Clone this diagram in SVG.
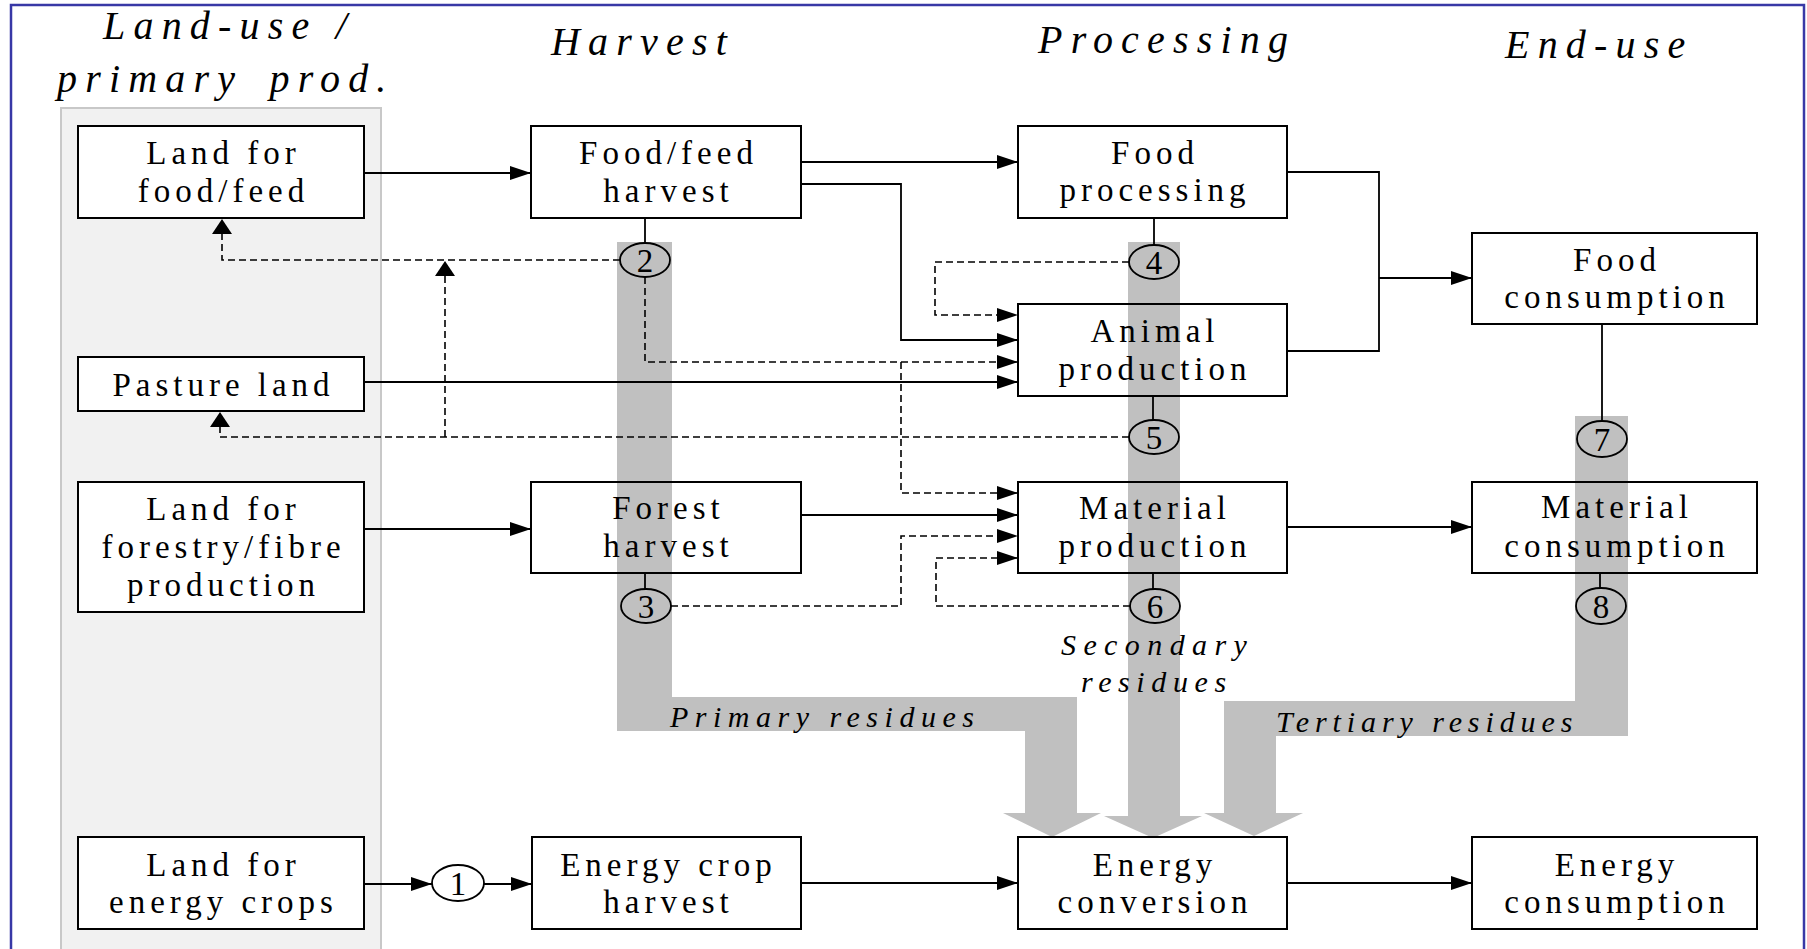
<svg xmlns="http://www.w3.org/2000/svg" width="1807" height="949" viewBox="0 0 1807 949">
<style>
.box{fill:none;stroke:#000;stroke-width:2}
.wbox{fill:#fff;stroke:#000;stroke-width:2}
.t{font-family:"Liberation Serif","Times New Roman",serif;font-size:33px;letter-spacing:5px;text-anchor:middle;fill:#000}
.h{font-family:"Liberation Serif","Times New Roman",serif;font-style:italic;font-size:40px;letter-spacing:8.2px;fill:#000}
.r{font-family:"Liberation Serif","Times New Roman",serif;font-style:italic;font-size:30px;fill:#000}
.num{font-family:"Liberation Serif","Times New Roman",serif;font-size:33px;text-anchor:middle;fill:#000}
.circ{fill:none;stroke:#000;stroke-width:1.8}
.s{fill:none;stroke:#000;stroke-width:1.8}
.d{fill:none;stroke:#000;stroke-width:1.6;stroke-dasharray:7 4}
.band{fill:#c0c0c0}
</style>
<defs>
<marker id="ah" markerUnits="userSpaceOnUse" markerWidth="21" markerHeight="14" refX="21" refY="7" orient="auto">
<path d="M0,0 L21,7 L0,14 Z" fill="#000"/>
</marker>
<marker id="av" markerUnits="userSpaceOnUse" markerWidth="15" markerHeight="20" refX="15" refY="10" orient="auto">
<path d="M0,0 L15,10 L0,20 Z" fill="#000"/>
</marker>
</defs>
<rect x="0" y="0" width="1807" height="949" fill="#fff"/>
<rect x="11" y="5" width="1793" height="970" fill="none" stroke="#3838a6" stroke-width="2.5"/>
<rect id="landpanel" x="61" y="108" width="320" height="870" fill="#f1f1f1" stroke="#c8c8c8" stroke-width="2"/>

<g id="titles">
<text class="h" x="103" y="39">Land-use /</text>
<text class="h" x="57" y="92" word-spacing="8">primary prod.</text>
<text class="h" x="551" y="55">Harvest</text>
<text class="h" x="1038" y="53" letter-spacing="7.3">Processing</text>
<text class="h" x="1505" y="58" letter-spacing="8">End-use</text>
</g>

<g id="residue-bands">
<path class="band" d="M617,242 H672 V697 H1077 V813 H1101 L1052,837 L1003,813 H1025 V731 H617 Z"/>
<path class="band" d="M1128,242 H1180 V816 H1202 L1153,838 L1104,816 H1128 Z"/>
<path class="band" d="M1575,416 H1628 V736 H1276 V813 H1303 L1254,836 L1204,813 H1224 V701 H1575 Z"/>
<text class="r" x="670" y="727" letter-spacing="6.5">Primary residues</text>
<text class="r" x="1061" y="655" letter-spacing="7.4">Secondary</text>
<text class="r" x="1081" y="692" letter-spacing="6.6">residues</text>
<text class="r" x="1276" y="732" letter-spacing="5.9">Tertiary residues</text>
</g>

<g id="n-land-food">
<rect class="wbox" x="78" y="126" width="286" height="92"/>
<text class="t" x="223.5" y="164">Land for</text>
<text class="t" x="223.5" y="202">food/feed</text>
</g>
<g id="n-pasture">
<rect class="wbox" x="78" y="357" width="286" height="54"/>
<text class="t" x="223.5" y="396">Pasture land</text>
</g>
<g id="n-land-forestry">
<rect class="wbox" x="78" y="482" width="286" height="130"/>
<text class="t" x="223.5" y="520">Land for</text>
<text class="t" x="223.5" y="558">forestry/fibre</text>
<text class="t" x="223.5" y="596">production</text>
</g>
<g id="n-land-energy">
<rect class="wbox" x="78" y="837" width="286" height="92"/>
<text class="t" x="223.5" y="876">Land for</text>
<text class="t" x="223.5" y="913">energy crops</text>
</g>
<g id="n-foodfeed-harvest">
<rect class="box" x="531" y="126" width="270" height="92"/>
<text class="t" x="668.5" y="164">Food/feed</text>
<text class="t" x="668.5" y="202">harvest</text>
</g>
<g id="n-forest-harvest">
<rect class="box" x="531" y="482" width="270" height="91"/>
<text class="t" x="668.5" y="519">Forest</text>
<text class="t" x="668.5" y="557">harvest</text>
</g>
<g id="n-energycrop-harvest">
<rect class="box" x="532" y="837" width="269" height="92"/>
<text class="t" x="668.5" y="876">Energy crop</text>
<text class="t" x="668.5" y="913">harvest</text>
</g>
<g id="n-food-processing">
<rect class="box" x="1018" y="126" width="269" height="92"/>
<text class="t" x="1155" y="164">Food</text>
<text class="t" x="1155" y="201">processing</text>
</g>
<g id="n-animal-production">
<rect class="box" x="1018" y="304" width="269" height="92"/>
<text class="t" x="1155" y="342">Animal</text>
<text class="t" x="1155" y="380">production</text>
</g>
<g id="n-material-production">
<rect class="box" x="1018" y="482" width="269" height="91"/>
<text class="t" x="1155" y="519">Material</text>
<text class="t" x="1155" y="557">production</text>
</g>
<g id="n-energy-conversion">
<rect class="box" x="1018" y="837" width="269" height="92"/>
<text class="t" x="1155" y="876">Energy</text>
<text class="t" x="1155" y="913">conversion</text>
</g>
<g id="n-food-consumption">
<rect class="box" x="1472" y="233" width="285" height="91"/>
<text class="t" x="1617" y="271">Food</text>
<text class="t" x="1617" y="308">consumption</text>
</g>
<g id="n-material-consumption">
<rect class="box" x="1472" y="482" width="285" height="91"/>
<text class="t" x="1617" y="518">Material</text>
<text class="t" x="1617" y="557">consumption</text>
</g>
<g id="n-energy-consumption">
<rect class="box" x="1472" y="837" width="285" height="92"/>
<text class="t" x="1617" y="876">Energy</text>
<text class="t" x="1617" y="913">consumption</text>
</g>

<g id="connectors">
<path class="s" d="M364,173 H531" marker-end="url(#ah)"/>
<path class="s" d="M801,162 H1018" marker-end="url(#ah)"/>
<path class="s" d="M801,184 H901 V340 H1018" marker-end="url(#ah)"/>
<path class="s" d="M364,382 H1018" marker-end="url(#ah)"/>
<path class="s" d="M1287,172 H1379 V351 H1287"/>
<path class="s" d="M1379,278 H1472" marker-end="url(#ah)"/>
<path class="s" d="M364,529 H531" marker-end="url(#ah)"/>
<path class="s" d="M801,515 H1018" marker-end="url(#ah)"/>
<path class="s" d="M1287,527 H1472" marker-end="url(#ah)"/>
<path class="s" d="M364,884 H432" marker-end="url(#ah)"/>
<path class="s" d="M484,884 H532" marker-end="url(#ah)"/>
<path class="s" d="M801,883 H1018" marker-end="url(#ah)"/>
<path class="s" d="M1287,883 H1472" marker-end="url(#ah)"/>
<path class="s" d="M645,218 V243"/>
<path class="s" d="M1154,218 V245"/>
<path class="s" d="M1153,396 V420"/>
<path class="s" d="M1153,573 V589"/>
<path class="s" d="M645,573 V589"/>
<path class="s" d="M1602,324 V421"/>
<path class="s" d="M1600,573 V588"/>
<path class="d" d="M620,260 H222 V219" marker-end="url(#av)"/>
<path class="d" d="M445,437 V261" marker-end="url(#av)"/>
<path class="d" d="M1129,437 H220 V412" marker-end="url(#av)"/>
<path class="d" d="M645,277 V362 H1018" marker-end="url(#ah)"/>
<path class="d" d="M901,362 V493 H1018" marker-end="url(#ah)"/>
<path class="d" d="M1129,262 H935 V315 H1018" marker-end="url(#ah)"/>
<path class="d" d="M671,606 H901 V536 H1018" marker-end="url(#ah)"/>
<path class="d" d="M1130,606 H936 V558 H1018" marker-end="url(#ah)"/>
</g>

<g id="c1"><ellipse class="circ" cx="458" cy="883" rx="26" ry="18"/><text class="num" x="458" y="895">1</text></g>
<g id="c2"><ellipse class="circ" cx="645" cy="260" rx="25" ry="17"/><text class="num" x="645" y="272">2</text></g>
<g id="c3"><ellipse class="circ" cx="646" cy="606" rx="25" ry="17"/><text class="num" x="646" y="618">3</text></g>
<g id="c4"><ellipse class="circ" cx="1154" cy="262" rx="25" ry="17"/><text class="num" x="1154" y="274">4</text></g>
<g id="c5"><ellipse class="circ" cx="1154" cy="437" rx="25" ry="17"/><text class="num" x="1154" y="449">5</text></g>
<g id="c6"><ellipse class="circ" cx="1155" cy="606" rx="25" ry="17"/><text class="num" x="1155" y="618">6</text></g>
<g id="c7"><ellipse class="circ" cx="1602" cy="439" rx="25" ry="18"/><text class="num" x="1602" y="451">7</text></g>
<g id="c8"><ellipse class="circ" cx="1601" cy="606" rx="25" ry="18"/><text class="num" x="1601" y="618">8</text></g>
</svg>
